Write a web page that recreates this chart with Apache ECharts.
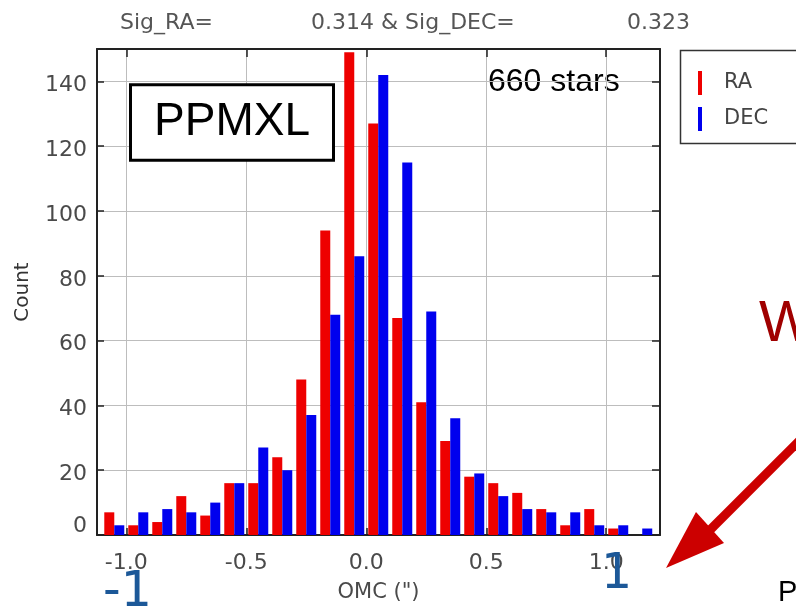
<!DOCTYPE html>
<html>
<head>
<meta charset="utf-8">
<script src="https://cdn.jsdelivr.net/npm/echarts@6/dist/echarts.min.js"></script>
<style>
html,body{margin:0;padding:0;background:#fff;}
#chart{width:796px;height:613px;}
</style>
</head>
<body>
<div id="chart"></div>
<script>
// ---- data ----
const binCenters = [-1.05,-0.95,-0.85,-0.75,-0.65,-0.55,-0.45,-0.35,-0.25,-0.15,-0.05,0.05,0.15,0.25,0.35,0.45,0.55,0.65,0.75,0.85,0.95,1.05,1.15];
const raCounts  = [7,3,4,12,6,16,16,24,48,94,149,127,67,41,29,18,16,13,8,3,8,2,0];
const decCounts = [3,7,8,7,10,16,27,20,37,68,86,142,115,69,36,19,12,8,7,7,3,3,2];
const xTicks = [-1.0,-0.5,0.0,0.5,1.0];
const yTicks = [0,20,40,60,80,100,120,140];
const seriesNames = ['RA','DEC'];
const titleParts = ['Sig_RA=','0.314 & Sig_DEC=','0.323'];
const starsLabel = '660 stars';
const catalogLabel = 'PPMXL';

const chart = echarts.init(document.getElementById('chart'));
const labelFont = {fontFamily:'DejaVu Sans', fontSize:22, color:'#4a4a4a'};
const frame = {show:true, onZero:false, lineStyle:{color:'#222', width:2}};

const option = {
  animation:false,
  backgroundColor:'#fff',
  grid:{left:97, right:136, top:49, bottom:78, containLabel:false},
  legend:{
    data:seriesNames, orient:'vertical', left:698, top:71, padding:0,
    itemWidth:21, itemHeight:24, itemGap:12,
    icon:'path://M0,0h4v24h-4zM21,24',
    textStyle:{fontFamily:'DejaVu Sans', fontSize:21, color:'#444', padding:[6,0,0,0]}
  },
  xAxis:[{
    type:'value', min:-1.122, max:1.224, position:'bottom',
    name:'OMC (")', nameLocation:'middle', nameGap:47,
    nameTextStyle:{fontFamily:'DejaVu Sans', fontSize:21, color:'#4a4a4a'},
    axisLine:frame,
    axisTick:{show:true, inside:true, length:7, customValues:xTicks, lineStyle:{color:'#222', width:1.5}},
    axisLabel:Object.assign({margin:17, customValues:xTicks, formatter:v=>v.toFixed(1)}, labelFont),
    splitLine:{show:true, lineStyle:{color:'#bdbdbd', width:1}}
  },{
    type:'value', min:-1.122, max:1.224, position:'top',
    axisLine:frame,
    axisTick:{show:true, inside:true, length:8, customValues:xTicks, lineStyle:{color:'#222', width:1.5}},
    axisLabel:{show:false}, splitLine:{show:false}
  }],
  yAxis:[{
    type:'value', min:0, max:150, position:'left',
    name:'Count', nameLocation:'middle', nameGap:64,
    nameTextStyle:{fontFamily:'DejaVu Sans', fontSize:20, color:'#333'},
    axisLine:frame,
    axisTick:{show:true, inside:true, length:7, customValues:yTicks, lineStyle:{color:'#222', width:1.5}},
    axisLabel:{
      margin:10, customValues:yTicks,
      formatter:v => v === 0 ? '{z|0}' : '{n|' + v + '}',
      rich:{
        n:Object.assign({padding:[8,0,0,0]}, labelFont),
        z:Object.assign({padding:[0,0,18,0]}, labelFont)
      }
    },
    splitLine:{show:true, lineStyle:{color:'#bdbdbd', width:1}}
  },{
    type:'value', min:0, max:150, position:'right',
    axisLine:frame,
    axisTick:{show:true, inside:true, length:8, customValues:yTicks, lineStyle:{color:'#222', width:1.5}},
    axisLabel:{show:false}, splitLine:{show:false}
  }],
  series:[{
    name:seriesNames[0], type:'bar', xAxisIndex:0, yAxisIndex:0,
    barWidth:10, barGap:'0%',
    itemStyle:{color:'#ee0000'},
    data:binCenters.map((c,i)=>[c, raCounts[i]])
  },{
    name:seriesNames[1], type:'bar', xAxisIndex:0, yAxisIndex:0,
    barWidth:10, barGap:'0%',
    itemStyle:{color:'#0000ee'},
    data:binCenters.map((c,i)=>[c, decCounts[i]])
  }],
  graphic:[
    {type:'text', left:120, top:12, style:{text:titleParts[0], font:'22px "DejaVu Sans"', fill:'#555'}},
    {type:'text', left:311, top:12, style:{text:titleParts[1], font:'22px "DejaVu Sans"', fill:'#555'}},
    {type:'text', left:627, top:12, style:{text:titleParts[2], font:'22px "DejaVu Sans"', fill:'#555'}},
    {type:'rect', shape:{x:680.5, y:50.5, width:140, height:93}, style:{fill:'none', stroke:'#333', lineWidth:1.5}, z:-1},
    {type:'text', x:488, y:82, style:{text:starsLabel, font:'32px "Liberation Sans"', fill:'#000', verticalAlign:'middle'}},
    {type:'rect', shape:{x:130.5, y:84.8, width:203, height:75.4}, style:{fill:'#fff', stroke:'#000', lineWidth:3}, z:10},
    {type:'text', x:232, y:122, style:{text:catalogLabel, font:'46px "Liberation Sans"', fill:'#000', align:'center', verticalAlign:'middle'}, z:11},
    {type:'text', x:759, y:325, style:{text:'W', font:'58px "Liberation Sans"', fill:'#a00000', verticalAlign:'middle'}},
    {type:'text', x:778, y:593, style:{text:'P', font:'29px "Liberation Sans"', fill:'#000', verticalAlign:'middle'}},
    {type:'text', x:103, y:593, style:{text:'-1', font:'49px "DejaVu Sans"', fill:'#1c5898', verticalAlign:'middle'}, z:20},
    {type:'text', x:601, y:575, style:{text:'1', font:'49px "DejaVu Sans"', fill:'#1c5898', verticalAlign:'middle'}, z:20},
    {type:'line', shape:{x1:810, y1:430, x2:706, y2:534}, style:{stroke:'#cc0000', lineWidth:9}, z:20},
    {type:'polygon', shape:{points:[[666,568],[696,512],[724,543]]}, style:{fill:'#cc0000'}, z:20}
  ]
};
chart.setOption(option);
</script>
</body>
</html>
